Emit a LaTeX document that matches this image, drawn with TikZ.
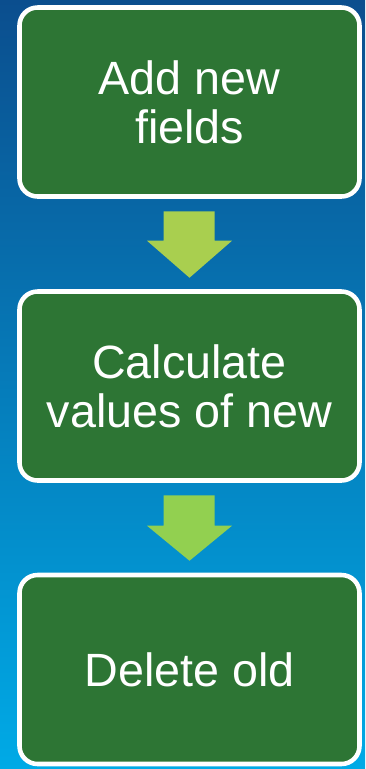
\documentclass[tikz,border=0pt]{standalone}
\usepackage{fontspec}
\setmainfont{Liberation Sans}
\usetikzlibrary{calc}

\definecolor{bgtop}{RGB}{11,78,142}
\definecolor{bgmid}{RGB}{0,110,184}
\definecolor{bgbot}{RGB}{0,170,230}
\definecolor{stepgreen}{RGB}{45,117,52}
\definecolor{arrowlime}{RGB}{169,207,79}
\definecolor{arrowgreen}{RGB}{146,208,80}

\tikzset{
  stepbox/.style={draw=white, line width=3.4pt, fill=stepgreen, rounded corners=13.5pt,
    minimum width=255pt, minimum height=141.75pt, text=white, align=center,
    font=\fontsize{35}{37}\selectfont, inner sep=0pt},
}

\begin{document}
\begin{tikzpicture}[x=0.75pt,y=0.75pt,yscale=-1,xscale=1]
%Background
\shade [top color=bgtop, middle color=bgmid, bottom color=bgbot] (0,0) rectangle (365,769);
\useasboundingbox (0,0) rectangle (365,769);

%Shape: Rounded Rect
\node (add) at (189.5,102) [stepbox] {Add new\\fields};
%Shape: Rounded Rect
\node (calc) at (189.5,386) [stepbox] {Calculate\\values of new};
%Shape: Rounded Rect
\node (del) at (189.5,669.5) [stepbox] {Delete old};

%Shape: Down Arrow
\fill [arrowlime] ($(add.south)+(-26,12.5)$) -- ($(add.south)+(25,12.5)$) -- ($(calc.north)+(25,-48.5)$) -- ($(calc.north)+(42.5,-48.5)$) -- ($(calc.north)+(0,-11.5)$) -- ($(calc.north)+(-42.5,-48.5)$) -- ($(calc.north)+(-26,-48.5)$) -- cycle ;
%Shape: Down Arrow
\fill [arrowgreen] ($(calc.south)+(-26,12.5)$) -- ($(calc.south)+(25,12.5)$) -- ($(del.north)+(25,-47)$) -- ($(del.north)+(42.5,-47)$) -- ($(del.north)+(0,-12)$) -- ($(del.north)+(-42.5,-47)$) -- ($(del.north)+(-26,-47)$) -- cycle ;

\end{tikzpicture}
\end{document}
